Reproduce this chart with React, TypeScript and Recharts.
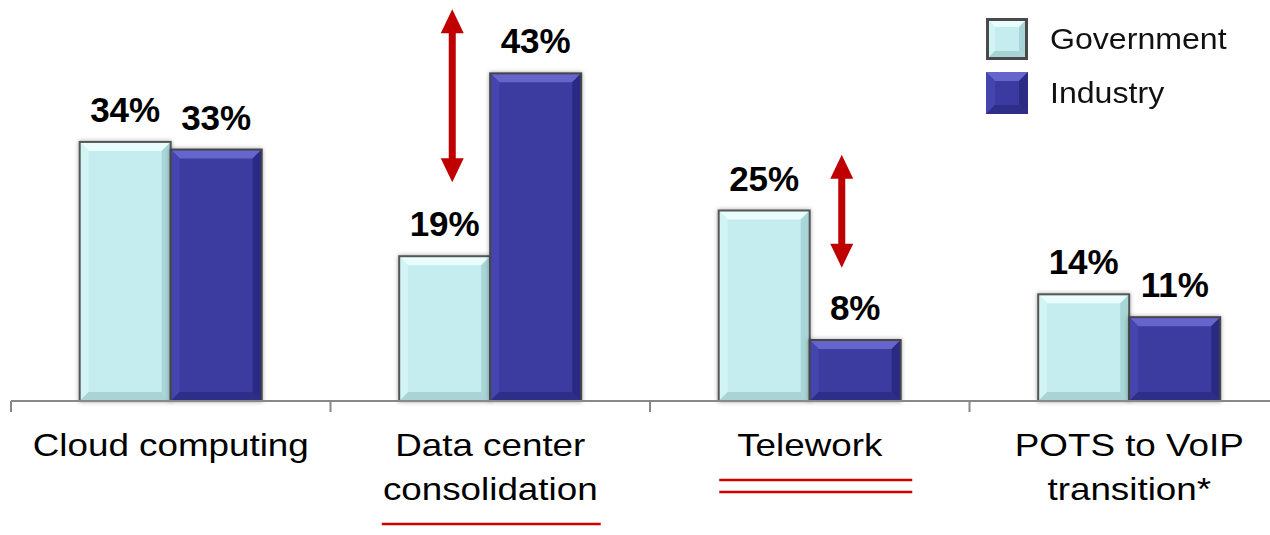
import React from "react";
import { BarChart, Bar, XAxis, YAxis, Legend, LabelList, ReferenceLine } from "recharts";

const categories = ["Cloud computing", "Data center consolidation", "Telework", "POTS to VoIP transition*"];
const tickLines = [["Cloud computing"], ["Data center", "consolidation"], ["Telework"], ["POTS to VoIP", "transition*"]];
const government = [34, 19, 25, 14];
const industry = [33, 43, 8, 11];

// gap arrows: which category, and the percent range they span
const arrowCategory = ["Data center consolidation", "Telework"];
const arrowFrom = [51.4, 17.5];
const arrowTo = [28.7, 32.3];

const data = categories.map((category, i) => ({
  category,
  government: government[i],
  industry: industry[i],
}));

const FONT = '"Liberation Sans", Arial, sans-serif';
const RED = "#C00000";

const CHART_W = 1300;
const MARGIN = { top: 20, right: 11, left: 11, bottom: 0 };
const BAND = (CHART_W - MARGIN.left - MARGIN.right) / categories.length;

const govPalette = { base: "#C5ECEE", top: "#EAFDFD", left: "#D3F4F5", right: "#A8D5D7", bottom: "#A9D3D5", stroke: "#555555" };
const indPalette = { base: "#3A3AA0", top: "#6565CC", left: "#4545B0", right: "#2B2B84", bottom: "#2E2E88", stroke: "#454545" };

// horizontal nudge of each arrow from its category centre, px
const arrowShift: Record<string, number> = { "Data center consolidation": -38, Telework: 32 };

// underline marks under two of the category names
const underlines: Record<string, { rows: number[]; width: number; shift: number }> = {
  "Data center consolidation": { rows: [123], width: 219, shift: 1 },
  Telework: { rows: [79, 91], width: 193, shift: 6 },
};

function BevelBar(props: any) {
  const { x, y, width: w, height: h, palette } = props;
  if (!h || h <= 0) return null;
  const b = Math.min(9, h / 2, w / 2);
  const p = (pts: number[][]) => pts.map((q) => q.join(",")).join(" ");
  return (
    <g filter="url(#barShadow)">
      <rect x={x} y={y} width={w} height={h} fill={palette.base} />
      <polygon points={p([[x, y], [x + w, y], [x + w - b, y + b], [x + b, y + b]])} fill={palette.top} />
      <polygon points={p([[x, y], [x + b, y + b], [x + b, y + h - b], [x, y + h]])} fill={palette.left} />
      <polygon points={p([[x + w, y], [x + w, y + h], [x + w - b, y + h - b], [x + w - b, y + b]])} fill={palette.right} />
      <polygon points={p([[x, y + h], [x + w, y + h], [x + w - b, y + h - b], [x + b, y + h - b]])} fill={palette.bottom} />
      <rect x={x} y={y} width={w} height={h} fill="none" stroke={palette.stroke} strokeWidth={2} />
    </g>
  );
}

function ValueLabel(props: any) {
  const { x, y, width, value } = props;
  return (
    <text
      x={Number(x) + Number(width) / 2}
      y={Number(y) - 20}
      textAnchor="middle"
      fontSize={35}
      fontWeight="bold"
      fontFamily={FONT}
      fill="#000"
    >
      {value}%
    </text>
  );
}

function CategoryTick(props: any) {
  const { x, y, payload, index } = props;
  const idx = categories.indexOf(payload.value);
  const lines = tickLines[idx] || [payload.value];
  const ul = underlines[payload.value];
  const edges = [x - BAND / 2];
  if (index === categories.length - 1) edges.push(x + BAND / 2);
  return (
    <g>
      {edges.map((ex, i) => (
        <line key={"t" + i} x1={ex} x2={ex} y1={y} y2={y + 11} stroke="#888888" strokeWidth={2} />
      ))}
      {lines.map((line, i) => (
        <text
          key={i}
          transform={`translate(${x},${y + 55 + i * 44}) scale(1.15,1)`}
          textAnchor="middle"
          fontSize={32}
          fontFamily={FONT}
          fill="#000"
        >
          {line}
        </text>
      ))}
      {ul &&
        ul.rows.map((dy, i) => (
          <line
            key={"u" + i}
            x1={x + ul.shift - ul.width / 2}
            x2={x + ul.shift + ul.width / 2}
            y1={y + dy}
            y2={y + dy}
            stroke="#D40000"
            strokeWidth={2.5}
          />
        ))}
    </g>
  );
}

function DoubleArrow(props: any) {
  const { x1, y1, y2, shift } = props;
  const cx = x1 + shift;
  const top = Math.min(y1, y2);
  const bot = Math.max(y1, y2);
  const hw = 11.5;
  const hl = 24;
  const sw = 3.5;
  const pts = [
    [cx, top],
    [cx + hw, top + hl],
    [cx + sw, top + hl],
    [cx + sw, bot - hl],
    [cx + hw, bot - hl],
    [cx, bot],
    [cx - hw, bot - hl],
    [cx - sw, bot - hl],
    [cx - sw, top + hl],
    [cx - hw, top + hl],
  ];
  return <polygon points={pts.map((q) => q.join(",")).join(" ")} fill={RED} />;
}

function LegendSwatch({ palette, border }: any) {
  const s = 42;
  const b = 9;
  const p = (pts: number[][]) => pts.map((q) => q.join(",")).join(" ");
  return (
    <svg width={s} height={s} style={{ display: "block" }}>
      <rect x={0} y={0} width={s} height={s} fill={palette.base} />
      <polygon points={p([[0, 0], [s, 0], [s - b, b], [b, b]])} fill={palette.top} />
      <polygon points={p([[0, 0], [b, b], [b, s - b], [0, s]])} fill={palette.left} />
      <polygon points={p([[s, 0], [s, s], [s - b, s - b], [s - b, b]])} fill={palette.right} />
      <polygon points={p([[0, s], [s, s], [s - b, s - b], [b, s - b]])} fill={palette.bottom} />
      {border && <rect x={1.5} y={1.5} width={s - 3} height={s - 3} fill="none" stroke="#4a4a4a" strokeWidth={3} />}
    </svg>
  );
}

const legendItems = [
  { name: "Government", palette: govPalette, border: true },
  { name: "Industry", palette: indPalette, border: false },
];

function renderLegend() {
  return (
    <div style={{ fontFamily: FONT }}>
      {legendItems.map((it) => (
        <div key={it.name} style={{ display: "flex", alignItems: "center", height: 54 }}>
          <LegendSwatch palette={it.palette} border={it.border} />
          <span style={{ fontSize: 30, marginLeft: 22, color: "#111", transform: "scaleX(1.07)", transformOrigin: "left center" }}>
            {it.name}
          </span>
        </div>
      ))}
    </div>
  );
}

export default function App() {
  return (
    <div style={{ position: "fixed", left: 0, top: 0, width: 1270, height: 535, overflow: "hidden", background: "#fff" }}>
      <BarChart
        width={CHART_W}
        height={535}
        data={data}
        margin={MARGIN}
        barCategoryGap="21.5%"
        barGap={0}
      >
        <defs>
          <filter id="barShadow" x="-10%" y="-10%" width="120%" height="120%">
            <feDropShadow dx="0" dy="0" stdDeviation="2" floodColor="#000" floodOpacity="0.35" />
          </filter>
        </defs>
        <XAxis
          dataKey="category"
          interval={0}
          height={134}
          axisLine={{ stroke: "#888888", strokeWidth: 2 }}
          tickLine={false}
          tickSize={0}
          tickMargin={0}
          tick={<CategoryTick />}
        />
        <YAxis hide domain={[0, 50]} />
        <Legend
          layout="vertical"
          align="center"
          verticalAlign="middle"
          wrapperStyle={{ top: 12, left: 986, width: 280, height: 110 }}
          content={renderLegend}
        />
        <Bar
          dataKey="government"
          name="Government"
          fill={govPalette.base}
          isAnimationActive={false}
          shape={(p: any) => <BevelBar {...p} palette={govPalette} />}
        >
          <LabelList dataKey="government" content={<ValueLabel />} />
        </Bar>
        <Bar
          dataKey="industry"
          name="Industry"
          fill={indPalette.base}
          isAnimationActive={false}
          shape={(p: any) => <BevelBar {...p} palette={indPalette} />}
        >
          <LabelList dataKey="industry" content={<ValueLabel />} />
        </Bar>
        {arrowCategory.map((cat, i) => (
          <ReferenceLine
            key={i}
            ifOverflow="visible"
            segment={[
              { x: cat, y: arrowFrom[i] },
              { x: cat, y: arrowTo[i] },
            ]}
            shape={(p: any) => <DoubleArrow {...p} shift={arrowShift[cat]} />}
          />
        ))}
      </BarChart>
    </div>
  );
}
